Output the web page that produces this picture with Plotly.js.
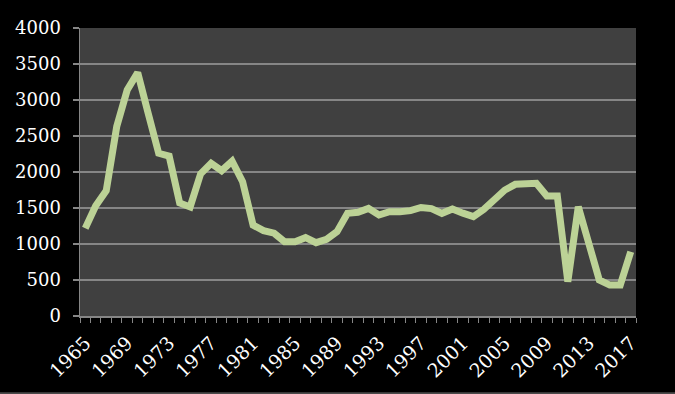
<!DOCTYPE html>
<html>
<head>
<meta charset="utf-8">
<script src="https://cdn.plot.ly/plotly-3.0.1.min.js"></script>
<style>
html,body{margin:0;padding:0;background:#000;}
#chart{width:675px;height:394px;}
</style>
</head>
<body>
<div id="chart"></div>
<script>
const years = [1965,1966,1967,1968,1969,1970,1971,1972,1973,1974,1975,1976,1977,1978,1979,1980,1981,1982,1983,1984,1985,1986,1987,1988,1989,1990,1991,1992,1993,1994,1995,1996,1997,1998,1999,2000,2001,2002,2003,2004,2005,2006,2007,2008,2009,2010,2011,2012,2013,2014,2015,2016,2017];
const values = [1220,1530,1740,2630,3140,3380,2815,2260,2220,1570,1515,1975,2120,2018,2150,1866,1262,1185,1150,1032,1032,1088,1018,1065,1171,1426,1440,1495,1403,1449,1449,1463,1507,1492,1426,1485,1428,1380,1481,1611,1750,1829,1843,1843,1667,1667,477,1518,1009,500,430,430,893];
const yTicks = [0,500,1000,1500,2000,2500,3000,3500,4000];
const xTickYears = [1965,1969,1973,1977,1981,1985,1989,1993,1997,2001,2005,2009,2013,2017];

const trace = {
  x: years,
  y: values,
  type: 'scatter',
  mode: 'lines',
  line: {color: '#bcd296', width: 7},
  hoverinfo: 'x+y'
};

const layout = {
  width: 675,
  height: 394,
  paper_bgcolor: '#000000',
  plot_bgcolor: '#404040',
  margin: {l: 80, r: 39, t: 28, b: 78},
  showlegend: false,
  font: {family: '"DejaVu Serif", "Liberation Serif", serif', color: '#ffffff', size: 17},
  xaxis: {
    range: [1964.5, 2017.5],
    tickmode: 'array',
    tickvals: xTickYears,
    ticktext: xTickYears.map(String),
    tickangle: -45,
    ticks: '',
    showgrid: false,
    zeroline: false,
    showline: true,
    linecolor: '#868686',
    linewidth: 1.5,
    ticklabelstandoff: 7,
    tickfont: {size: 19, color: '#ffffff'},
    minor: {tick0: 1964.5, dtick: 1, ticks: 'outside', ticklen: 5, tickcolor: '#868686', tickwidth: 1, showgrid: false}
  },
  yaxis: {
    range: [0, 4000],
    tickmode: 'array',
    tickvals: yTicks,
    ticktext: yTicks.map(String),
    ticks: 'outside',
    ticklen: 6,
    tickcolor: '#868686',
    tickwidth: 1.5,
    showgrid: true,
    gridcolor: '#868686',
    gridwidth: 1.5,
    zeroline: false,
    showline: true,
    linecolor: '#868686',
    linewidth: 1.5,
    ticklabelstandoff: 8,
    tickfont: {size: 18, color: '#ffffff'}
  },
  shapes: [{
    type: 'line', xref: 'paper', yref: 'paper',
    x0: -0.2, x1: 1.2, y0: -0.268, y1: -0.268,
    line: {color: '#4a4a4a', width: 2}
  }]
};

Plotly.newPlot('chart', [trace], layout, {staticPlot: true, displayModeBar: false});
</script>
</body>
</html>
